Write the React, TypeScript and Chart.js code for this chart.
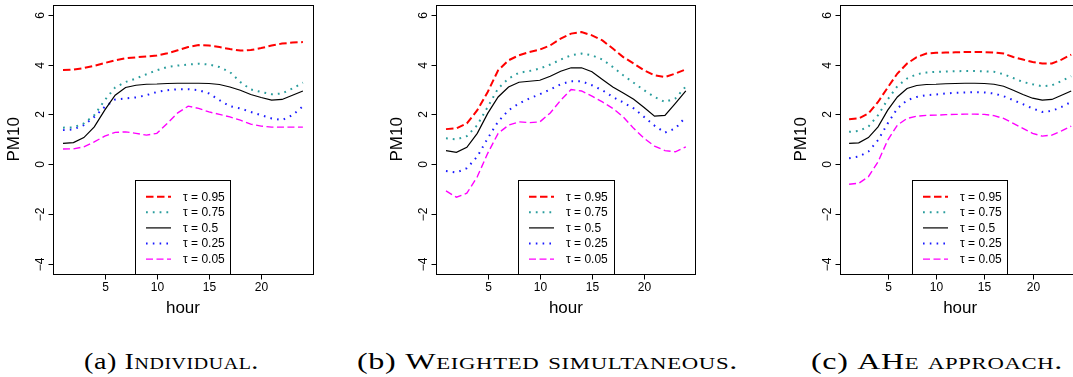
import React, { useEffect, useLayoutEffect, useRef } from "react";
import { Chart, registerables } from "chart.js";

Chart.register(...registerables);

// ---------- data ----------
const hours = [1, 2, 3, 4, 5, 6, 7, 8, 9, 10, 11, 12, 13, 14, 15, 16, 17, 18, 19, 20, 21, 22, 23, 24];
const xTicks = [5, 10, 15, 20];
const yTicks = [-4, -2, 0, 2, 4, 6];
const seriesLabels = ["τ = 0.95", "τ = 0.75", "τ = 0.5", "τ = 0.25", "τ = 0.05"];
const xTitle = "hour";
const yTitle = "PM10";
const captionTags = ["(a)", "(b)", "(c)"];
const captionTexts = ["Individual.", "Weighted simultaneous.", "AHe approach."];

// (a) Individual
const indQ95 = [3.78, 3.8, 3.86, 3.95, 4.06, 4.17, 4.25, 4.29, 4.32, 4.36, 4.45, 4.57, 4.7, 4.78, 4.76, 4.7, 4.62, 4.56, 4.58, 4.66, 4.76, 4.84, 4.88, 4.9];
const indQ75 = [1.47, 1.48, 1.64, 1.97, 2.57, 3.08, 3.3, 3.44, 3.61, 3.77, 3.9, 3.96, 4.0, 4.03, 4.0, 3.9, 3.7, 3.3, 3.0, 2.9, 2.81, 2.84, 3.04, 3.27];
const indQ50 = [0.84, 0.87, 1.07, 1.5, 2.17, 2.77, 3.08, 3.17, 3.21, 3.22, 3.24, 3.25, 3.25, 3.25, 3.24, 3.2, 3.1, 2.97, 2.8, 2.68, 2.57, 2.6, 2.77, 2.94];
const indQ25 = [1.37, 1.4, 1.57, 1.9, 2.3, 2.6, 2.64, 2.68, 2.77, 2.9, 2.97, 3.01, 3.01, 2.97, 2.84, 2.57, 2.33, 2.24, 2.1, 1.97, 1.84, 1.77, 1.97, 2.33];
const indQ05 = [0.61, 0.62, 0.7, 0.9, 1.13, 1.28, 1.3, 1.24, 1.17, 1.24, 1.64, 2.06, 2.33, 2.24, 2.1, 2.0, 1.9, 1.77, 1.61, 1.53, 1.49, 1.49, 1.49, 1.49];

// (b) Weighted simultaneous
const wsQ95 = [1.41, 1.44, 1.64, 2.17, 2.9, 3.77, 4.17, 4.37, 4.5, 4.6, 4.77, 5.04, 5.24, 5.3, 5.17, 4.97, 4.64, 4.3, 4.04, 3.77, 3.57, 3.5, 3.64, 3.81];
const wsQ75 = [1.04, 1.0, 1.13, 1.57, 2.3, 3.04, 3.44, 3.67, 3.74, 3.84, 4.0, 4.2, 4.37, 4.44, 4.37, 4.2, 3.9, 3.57, 3.27, 2.97, 2.7, 2.5, 2.64, 3.12];
const wsQ50 = [0.55, 0.48, 0.68, 1.24, 2.04, 2.7, 3.1, 3.29, 3.33, 3.37, 3.53, 3.73, 3.87, 3.87, 3.71, 3.4, 3.1, 2.86, 2.61, 2.28, 1.93, 1.96, 2.44, 2.94];
const wsQ25 = [-0.27, -0.33, -0.16, 0.31, 1.04, 1.71, 2.17, 2.44, 2.64, 2.81, 3.0, 3.21, 3.33, 3.33, 3.17, 2.97, 2.7, 2.48, 2.24, 1.9, 1.55, 1.27, 1.44, 1.9];
const wsQ05 = [-1.07, -1.32, -1.16, -0.5, 0.44, 1.24, 1.57, 1.7, 1.67, 1.7, 2.06, 2.57, 3.0, 2.94, 2.73, 2.5, 2.24, 1.9, 1.44, 1.04, 0.73, 0.55, 0.5, 0.7];

// (c) AHe approach
const aheQ95 = [1.81, 1.84, 2.04, 2.5, 3.08, 3.64, 4.04, 4.3, 4.44, 4.47, 4.48, 4.49, 4.5, 4.5, 4.5, 4.48, 4.44, 4.3, 4.2, 4.1, 4.04, 4.04, 4.2, 4.4];
const aheQ75 = [1.3, 1.34, 1.51, 1.97, 2.6, 3.13, 3.44, 3.61, 3.68, 3.71, 3.72, 3.73, 3.74, 3.74, 3.73, 3.71, 3.61, 3.46, 3.3, 3.21, 3.13, 3.17, 3.34, 3.53];
const aheQ50 = [0.84, 0.86, 1.07, 1.5, 2.17, 2.7, 3.04, 3.16, 3.2, 3.21, 3.23, 3.24, 3.25, 3.25, 3.24, 3.21, 3.13, 2.97, 2.8, 2.65, 2.57, 2.6, 2.77, 2.94];
const aheQ25 = [0.24, 0.31, 0.51, 0.97, 1.64, 2.24, 2.57, 2.7, 2.77, 2.8, 2.84, 2.87, 2.88, 2.89, 2.88, 2.84, 2.73, 2.57, 2.41, 2.24, 2.1, 2.14, 2.3, 2.5];
const aheQ05 = [-0.8, -0.76, -0.5, 0.1, 0.97, 1.57, 1.84, 1.93, 1.96, 1.97, 1.99, 2.0, 2.01, 2.01, 2.0, 1.95, 1.84, 1.64, 1.44, 1.24, 1.13, 1.17, 1.34, 1.53];

const panelSeries = [
  [indQ95, indQ75, indQ50, indQ25, indQ05],
  [wsQ95, wsQ75, wsQ50, wsQ25, wsQ05],
  [aheQ95, aheQ75, aheQ50, aheQ25, aheQ05],
];

// ---------- styles ----------
const colors = ["#ff0000", "#2a9d9d", "#000000", "#1a1aff", "#ff00ff"];
const widths = [2, 2, 1.2, 2, 1.4];
const dashes = [[7.5, 3.5], [1.8, 5], [], [1.6, 5.2], [7, 3.5]];

const FONT = "'Liberation Sans', Arial, Helvetica, sans-serif";
const H = 320;

// canvas placement and plot-box geometry (canvas-relative)
const panels = [
  { left: 0, width: 360, padL: 53.4, padR: 47.5, legL: 135, legR: 230.3 },
  { left: 360, width: 360, padL: 76.4, padR: 24.6, legL: 158, legR: 254.3 },
  { left: 720, width: 380, padL: 120.2, padR: 19.9, legL: 192, legR: 287.3 },
];
const PAD_T = 4.7;
const PAD_B = 46;
const captionBoxes = [
  { left: 84, width: 175 },
  { left: 357, width: 381 },
  { left: 811, width: 252 },
];

const framePlugin = {
  id: "frame",
  afterDatasetsDraw(chart: any, _args: any, opts: any) {
    const ctx = chart.ctx as CanvasRenderingContext2D;
    const a = chart.chartArea;
    const xs = chart.scales.x;
    const ys = chart.scales.y;
    const crisp = (v: number) => Math.round(v) + 0.5;
    ctx.save();
    ctx.strokeStyle = "#000";
    ctx.fillStyle = "#000";
    ctx.lineWidth = 1;
    ctx.setLineDash([]);
    // box
    const L = crisp(a.left), R = crisp(a.right), T = crisp(a.top), B = crisp(a.bottom);
    ctx.strokeRect(L, T, R - L, B - T);
    // x ticks
    ctx.font = `12px ${FONT}`;
    ctx.textAlign = "center";
    ctx.textBaseline = "middle";
    for (const t of xTicks) {
      const px = crisp(xs.getPixelForValue(t));
      ctx.beginPath();
      ctx.moveTo(px, B);
      ctx.lineTo(px, B + 5);
      ctx.stroke();
      ctx.fillText(String(t), px, 287.5);
    }
    // y ticks
    for (const t of yTicks) {
      const py = crisp(ys.getPixelForValue(t));
      ctx.beginPath();
      ctx.moveTo(L, py);
      ctx.lineTo(L - 5, py);
      ctx.stroke();
      ctx.save();
      ctx.translate(a.left - 13, py);
      ctx.rotate(-Math.PI / 2);
      ctx.fillText(t < 0 ? "\u2212" + Math.abs(t) : String(t), 0, 0);
      ctx.restore();
    }
    // axis titles
    ctx.font = `17px ${FONT}`;
    ctx.fillText(xTitle, (a.left + a.right) / 2, 308.5);
    ctx.save();
    ctx.translate(a.left - 39, (a.top + a.bottom) / 2);
    ctx.rotate(-Math.PI / 2);
    ctx.fillText(yTitle, 0, 0);
    ctx.restore();
    // legend
    const lx = opts.legL, rx = opts.legR, ty = 180.3, by = a.bottom;
    ctx.fillStyle = "#fff";
    ctx.fillRect(lx, ty, rx - lx, by - ty);
    ctx.strokeStyle = "#000";
    ctx.strokeRect(crisp(lx), crisp(ty), Math.round(rx - lx), Math.round(by - ty));
    ctx.font = `12px ${FONT}`;
    ctx.textAlign = "left";
    chart.data.datasets.forEach((ds: any, i: number) => {
      const y = 196.7 + i * 15.6;
      ctx.strokeStyle = ds.borderColor;
      ctx.lineWidth = ds.borderWidth;
      ctx.setLineDash(ds.borderDash || []);
      ctx.beginPath();
      ctx.moveTo(lx + 11, y);
      ctx.lineTo(lx + 36, y);
      ctx.stroke();
      ctx.fillStyle = "#000";
      ctx.fillText(ds.label, lx + 48, y + 0.5);
    });
    ctx.restore();
  },
};

function Panel({ idx }: { idx: number }) {
  const ref = useRef<HTMLCanvasElement | null>(null);
  const p = panels[idx];
  useEffect(() => {
    if (!ref.current) return;
    const chart = new Chart(ref.current, {
      type: "line",
      data: {
        datasets: panelSeries[idx].map((vals, i) => ({
          label: seriesLabels[i],
          data: hours.map((h, k) => ({ x: h, y: vals[k] })),
          borderColor: colors[i],
          backgroundColor: colors[i],
          borderWidth: widths[i],
          borderDash: dashes[i],
          pointRadius: 0,
          tension: 0,
          fill: false,
        })),
      },
      options: {
        responsive: false,
        maintainAspectRatio: false,
        animation: false,
        events: [],
        layout: { padding: { left: p.padL, right: p.padR, top: PAD_T, bottom: PAD_B } },
        scales: {
          x: { type: "linear", min: 0.08, max: 24.92, display: false },
          y: { type: "linear", min: -4.4, max: 6.4, display: false },
        },
        plugins: {
          legend: { display: false },
          tooltip: { enabled: false },
          frame: { legL: p.legL, legR: p.legR },
        } as any,
      },
      plugins: [framePlugin],
    });
    return () => chart.destroy();
  }, [idx]);
  return (
    <canvas
      ref={ref}
      width={p.width}
      height={H}
      style={{ position: "absolute", left: p.left, top: 0, width: p.width, height: H }}
    />
  );
}

function Caption({ idx }: { idx: number }) {
  const ref = useRef<HTMLSpanElement | null>(null);
  const box = captionBoxes[idx];
  useLayoutEffect(() => {
    const el = ref.current;
    if (!el) return;
    el.style.transform = "none";
    const w = el.getBoundingClientRect().width;
    if (w > 0) el.style.transform = `scaleX(${box.width / w})`;
  }, [idx]);
  return (
    <span
      ref={ref}
      style={{
        position: "absolute",
        left: box.left,
        top: 346,
        display: "inline-block",
        transformOrigin: "0 0",
        fontFamily: "'Liberation Serif', 'DejaVu Serif', serif",
        fontSize: 24,
        letterSpacing: "0.5px",
        lineHeight: "30px",
        color: "#000",
        whiteSpace: "nowrap",
      }}
    >
      <span>{captionTags[idx]}</span>{" "}
      <span style={{ fontVariant: "small-caps" }}>{captionTexts[idx]}</span>
    </span>
  );
}

export default function App() {
  return (
    <div
      style={{
        position: "absolute",
        left: 0,
        top: 0,
        width: 1073,
        height: 377,
        overflow: "hidden",
        background: "#fff",
      }}
    >
      {[0, 1, 2].map((i) => (
        <Panel key={i} idx={i} />
      ))}
      {[0, 1, 2].map((i) => (
        <Caption key={i} idx={i} />
      ))}
    </div>
  );
}
